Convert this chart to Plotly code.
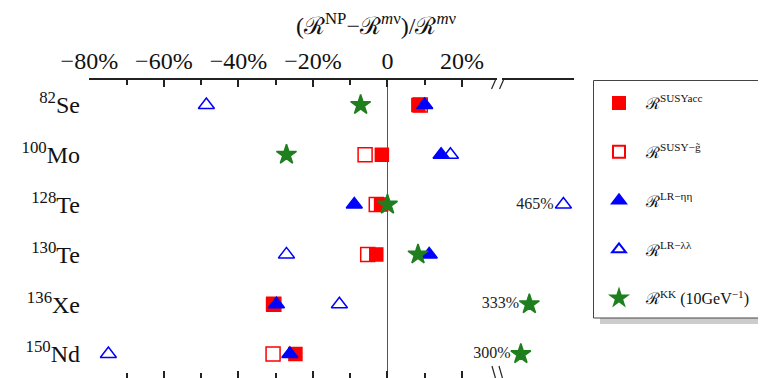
import plotly.graph_objects as go

nuclei = ["<sup>82</sup>Se", "<sup>100</sup>Mo", "<sup>128</sup>Te",
          "<sup>130</sup>Te", "<sup>136</sup>Xe", "<sup>150</sup>Nd"]
susy_acc = [8.3, -1.5, -1.7, -3.0, -30.7, -24.7]
susy_g = [8.8, -6.0, -3.0, -5.3, -30.5, -30.7]
lr_eta = [10.0, 14.4, -8.9, 11.2, -29.8, -26.2]
lr_lambda = [-48.6, 16.9, 465, -27.1, -12.9, -74.9]
kk = [-7.2, -27.1, 0.0, 8.2, 333, 300]

tick_vals = [-80, -60, -40, -20, 0, 20]
tick_text = ["\u221280%", "\u221260%", "\u221240%", "\u221220%", "0", "20%"]

BREAK = 100
FONT = "Liberation Serif, Times New Roman, serif"

OFF = 8  # page body margin
W, H = 766 - OFF, 378 - OFF
L, T = 89 - OFF, 80 - OFF
R = W - (574 - OFF)
B = 0
PW = W - L - R
PH = H - T - B


def px(x):
    return (x - OFF - L) / PW


def py(y):
    return (H - B - (y - OFF)) / PH


series = [
    ("\u211B<sup>SUSYacc</sup>", susy_acc, "square", "#ff0000", 13),
    ("\u211B<sup>SUSY\u2212g\u0303</sup>", susy_g, "square-open", "#ff0000", 14),
    ("\u211B<sup>LR\u2212\u03b7\u03b7</sup>", lr_eta, "triangle-up", "#0000ff", 14),
    ("\u211B<sup>LR\u2212\u03bb\u03bb</sup>", lr_lambda, "triangle-up-open", "#0000ff", 14),
    ("\u211B<sup>KK</sup> (10GeV<sup>\u22121</sup>)", kk, "star", "#1f7f1f", 15),
]

fig = go.Figure()
for i, (name, vals, sym, col, size) in enumerate(series):
    xs = [v for v in vals if v <= BREAK]
    ys = [n for v, n in zip(vals, nuclei) if v <= BREAK]
    fig.add_trace(go.Scatter(
        x=xs, y=ys, mode="markers", name=name, legendgroup=f"g{i}",
        marker=dict(symbol=sym, color=col, size=size,
                    line=dict(color=col, width=1.5)),
        cliponaxis=False, xaxis="x", yaxis="y"))
    xb = [v for v in vals if v > BREAK]
    yb = [n for v, n in zip(vals, nuclei) if v > BREAK]
    if xb:
        fig.add_trace(go.Scatter(
            x=xb, y=yb, mode="markers+text", showlegend=False,
            text=[f"{v}%" for v in xb], textposition="middle left",
            textfont=dict(family=FONT, size=16, color="#222"),
            marker=dict(symbol=sym, color=col, size=size,
                        line=dict(color=col, width=1.5)),
            cliponaxis=False, xaxis="x2", yaxis="y"))

x1_range = [-80.1, 29.4]
fig.add_trace(go.Scatter(x=[0], y=[nuclei[0]], mode="markers",
                         marker=dict(opacity=0), showlegend=False,
                         hoverinfo="skip", xaxis="x3", yaxis="y"))

edge = dict(color="#444", width=1)
shapes = [
    # legend shadow
    dict(type="rect", xref="paper", yref="paper",
         x0=px(600), x1=px(770), y0=py(324), y1=py(88),
         fillcolor="#cccccc", line=dict(width=0), layer="below"),
    # legend box (open to the right)
    dict(type="rect", xref="paper", yref="paper",
         x0=px(593.5), x1=px(770), y0=py(318), y1=py(80.5),
         fillcolor="white", line=dict(width=0), layer="below"),
    dict(type="line", xref="paper", yref="paper", x0=px(593.5), x1=px(770),
         y0=py(80.5), y1=py(80.5), line=edge, layer="below"),
    dict(type="line", xref="paper", yref="paper", x0=px(593.5), x1=px(770),
         y0=py(318), y1=py(318), line=edge, layer="below"),
    dict(type="line", xref="paper", yref="paper", x0=px(593.5), x1=px(593.5),
         y0=py(80.5), y1=py(318), line=edge, layer="below"),
    # top break marks
    dict(type="line", xref="paper", yref="paper", x0=px(491.5), y0=py(89),
         x1=px(495.5), y1=py(80), line=dict(color="#222", width=1.2)),
    dict(type="line", xref="paper", yref="paper", x0=px(499.5), y0=py(89),
         x1=px(503.5), y1=py(80), line=dict(color="#222", width=1.2)),
    # bottom break marks
    dict(type="line", xref="paper", yref="paper", x0=px(492), y0=py(366),
         x1=px(496), y1=py(380), line=dict(color="#222", width=1.2)),
    dict(type="line", xref="paper", yref="paper", x0=px(499), y0=py(366),
         x1=px(503), y1=py(380), line=dict(color="#222", width=1.2)),
]

fig.update_layout(
    width=W, height=H,
    margin=dict(l=L, r=R, t=T, b=B, autoexpand=False),
    paper_bgcolor="white", plot_bgcolor="white",
    font=dict(family=FONT, color="#111"),
    showlegend=True,
    legend=dict(x=px(592), xanchor="left", y=py(86), yanchor="top",
                bgcolor="rgba(0,0,0,0)", borderwidth=0,
                font=dict(family=FONT, size=16, color="#111"),
                tracegroupgap=25, itemsizing="constant", itemwidth=44),
    xaxis=dict(domain=[0, px(497)], range=x1_range, side="top",
               showline=True, linecolor="#222", linewidth=1.5,
               ticks="inside", ticklen=7, tickcolor="#222", tickwidth=1.5,
               tickvals=tick_vals, ticktext=tick_text,
               tickfont=dict(family=FONT, size=24, color="#111"),
               minor=dict(ticks="inside", ticklen=5, dtick=10, tick0=0,
                          tickcolor="#222", tickwidth=1.5, showgrid=False),
               showgrid=False, zeroline=True, zerolinecolor="#555",
               zerolinewidth=1, fixedrange=True),
    xaxis2=dict(domain=[px(502), 1], range=[227, 506], side="top",
                anchor="y", showline=True, linecolor="#222", linewidth=1.5,
                ticks="", showticklabels=False, showgrid=False,
                zeroline=False),
    xaxis3=dict(overlaying="x", range=x1_range, side="bottom", anchor="y",
                showline=False, ticks="inside", ticklen=7, tickcolor="#222",
                tickwidth=1.5, tickvals=tick_vals, showticklabels=False,
                minor=dict(ticks="inside", ticklen=5, dtick=10, tick0=0,
                           tickcolor="#222", tickwidth=1.5),
                showgrid=False, zeroline=False),
    yaxis=dict(type="category", categoryorder="array", categoryarray=nuclei,
               range=[5.48, -0.5], showline=False, ticks="", showgrid=False,
               zeroline=False, ticklabelstandoff=8,
               tickfont=dict(family=FONT, size=24, color="#111")),
    shapes=shapes,
    annotations=[dict(
        text="(\u211B<sup>NP</sup>\u2212\u211B<sup><i>m</i>\u03bd</sup>)/\u211B<sup><i>m</i>\u03bd</sup>",
        xref="paper", yref="paper", x=px(376), y=py(24),
        xanchor="center", yanchor="middle", showarrow=False,
        font=dict(family=FONT, size=24, color="#111"))],
)

fig.write_html("out.html",
               post_script="document.body.style.overflow='hidden';")
